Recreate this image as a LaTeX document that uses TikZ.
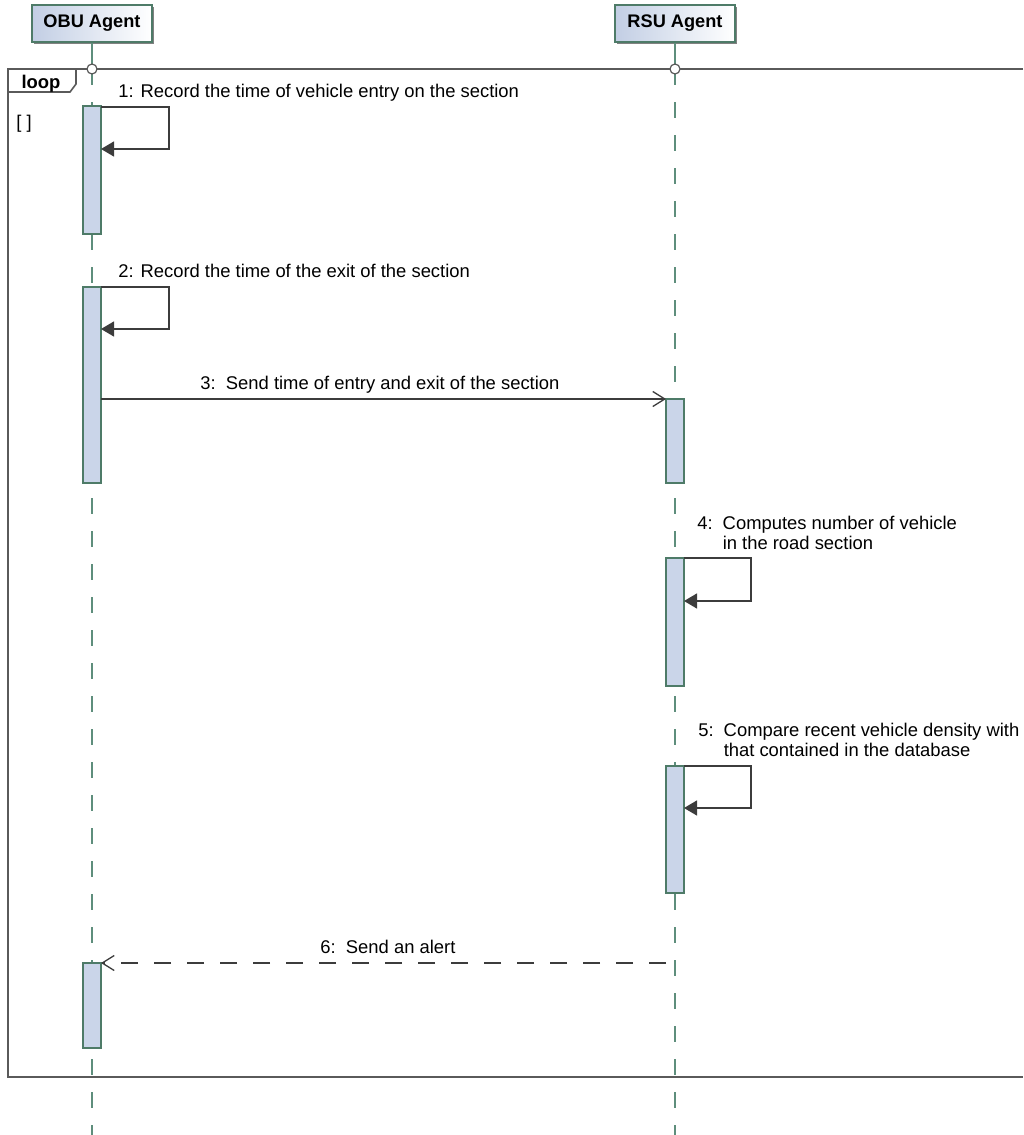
\documentclass[tikz,border=0pt]{standalone}
\usepackage{fontspec}
\setmainfont{Liberation Sans}
\usetikzlibrary{arrows.meta,calc,shadows}
\definecolor{actfill}{HTML}{CAD5E9}
\definecolor{actline}{HTML}{4E7B68}
\definecolor{lifecol}{HTML}{5E8E7C}
\definecolor{msgcol}{HTML}{3C3C3C}
\definecolor{framecol}{HTML}{5A5A5A}
\definecolor{headfill}{HTML}{C2CEE4}
\begin{document}
\begin{tikzpicture}[x=0.5pt,y=-0.5pt,
  lbl/.style={font=\fontsize{9.2}{10.4}\selectfont, inner sep=0pt, text=black},
  head/.style={draw=actline, line width=0.8pt, minimum width=60pt, minimum height=18.5pt,
    left color=headfill, right color=white, inner sep=0pt,
    font=\fontsize{9.1}{11}\selectfont\bfseries,
    drop shadow={shadow xshift=1.2pt, shadow yshift=-1.2pt, fill=black!55, opacity=0.9}},
  act/.style={draw=actline, fill=actfill, line width=0.65pt, minimum width=9pt,
    inner sep=0pt, outer sep=0pt},
  lifesolid/.style={draw=lifecol, line width=0.7pt},
  lifedash/.style={draw=lifecol, line width=0.7pt, dash pattern=on 8pt off 8.5pt},
  gate/.style={circle, draw=framecol, fill=white, line width=0.6pt, minimum size=5pt, inner sep=0pt},
  framebox/.style={draw=framecol, line width=0.8pt},
  msg/.style={draw=msgcol, line width=0.65pt},
  selfmsg/.style={msg, -{Triangle[length=6.5pt,width=7.5pt]}},
  callmsg/.style={msg, -{Straight Barb[length=6pt,width=7.5pt]}},
  replymsg/.style={msg, dash pattern=on 8.5pt off 8pt, -{Straight Barb[length=6pt,width=7.5pt]}}]
\useasboundingbox (0,0) rectangle (1023,1135);

% lifeline heads
\node[head] (obu) at (92,23.5) {OBU Agent};
\node[head] (rsu) at (675,23.5) {RSU Agent};
\coordinate (obuend) at (92,1135);
\coordinate (rsuend) at (675,1135);
\coordinate (obutop) at (92,69);
\coordinate (rsutop) at (675,69);

% lifelines
\draw[lifesolid] (obu.south) -- (obutop);
\draw[lifesolid] (rsu.south) -- (rsutop);
\draw[lifedash] (obutop) -- (obuend);
\draw[lifedash] (rsutop) -- (rsuend);

% loop combined fragment
\coordinate (ftl) at (8,69);
\coordinate (ftr) at (1023,69);
\coordinate (fbl) at (8,1077);
\coordinate (fbr) at (1023,1077);
\draw[framebox] (ftr) -- (ftl) -- (fbl) -- (fbr);
\draw[framebox] (8,92) -- (70,92) -- (76,84) -- (76,69);
\node[lbl, font=\fontsize{9.2}{10.4}\selectfont\bfseries, anchor=base] (looplbl) at (41,88) {loop};
\node[lbl, anchor=base] (guard) at (24,128) {[ ]};

% gates where lifelines cross the fragment
\node[gate] (obug) at (obutop) {};
\node[gate] (rsug) at (rsutop) {};

% activations
\node[act, minimum height=64pt] (a1) at (92,170) {};
\node[act, minimum height=98pt] (a2) at (92,385) {};
\node[act, minimum height=42.5pt] (a3) at (92,1005.5) {};
\node[act, minimum height=42pt] (r1) at (675,441) {};
\node[act, minimum height=64pt] (r2) at (675,622) {};
\node[act, minimum height=63.5pt] (r3) at (675,829.5) {};

% messages
\draw[selfmsg] ($(a1.north east)+(0,1)$) -- ++(68,0) -- ++(0,42) -- ($(a1.north east)+(0,43)$);
\node[lbl, anchor=base west] (m1) at (118,97) {1: Record the time of vehicle entry on the section};

\draw[selfmsg] (a2.north east) -- ++(68,0) -- ++(0,42) -- ($(a2.north east)+(0,42)$);
\node[lbl, anchor=base west] (m2) at (118,277) {2: Record the time of the exit of the section};

\draw[callmsg] (a2.east |- r1.north) -- (r1.north west);
\node[lbl, anchor=base west] (m3) at (200,389) {3:\ \ Send time of entry and exit of the section};

\draw[selfmsg] (r2.north east) -- ++(67,0) -- ++(0,43) -- ($(r2.north east)+(0,43)$);
\node[lbl, anchor=base west] (m4) at (697,529)
  {\begin{tabular}[t]{@{}l@{\hspace{5pt}}l@{}}4: & Computes number of vehicle\\ & in the road section\end{tabular}};

\draw[selfmsg] (r3.north east) -- ++(67,0) -- ++(0,42) -- ($(r3.north east)+(0,42)$);
\node[lbl, anchor=base west] (m5) at (698,736)
  {\begin{tabular}[t]{@{}l@{\hspace{5pt}}l@{}}5: & Compare recent vehicle density with\\ & that contained in the database\end{tabular}};

\draw[replymsg] (r1.west |- a3.north) -- (a3.north east);
\node[lbl, anchor=base west] (m6) at (320,953) {6:\ \ Send an alert};
\end{tikzpicture}
\end{document}
